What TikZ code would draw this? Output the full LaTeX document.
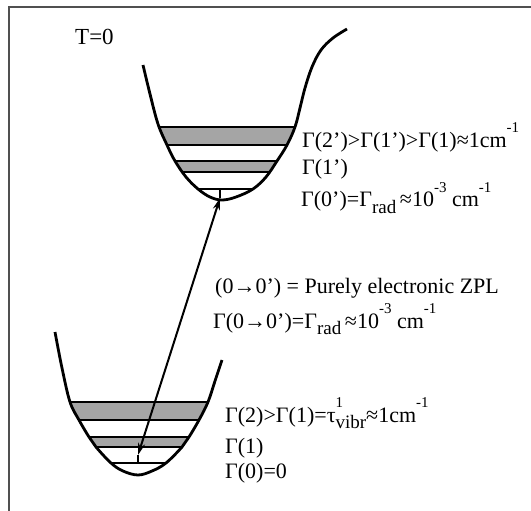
\documentclass[tikz,border=0pt]{standalone}
\usepackage{fontspec}
\setmainfont{Liberation Serif}
\usetikzlibrary{arrows.meta}
\newcommand\supx[1]{\raisebox{0.68em}{\fontsize{15}{15}\selectfont #1}}
\newcommand\subx[1]{\raisebox{-0.3em}{\fontsize{19}{19}\selectfont #1}}
\begin{document}
\begin{tikzpicture}[x=1pt, y=-1pt]
  % Colors
  \definecolor{framecol}{RGB}{80,80,80}
  \definecolor{bandcol}{RGB}{165,165,165}
  %
  \tikzset{
    well/.style={line width=2.8pt, line join=round},
    level/.style={line width=2.2pt},
    band/.style={fill=bandcol},
    lbl/.style={anchor=base west, inner sep=0pt, font=\fontsize{22}{26}\selectfont},
    trans/.style={line width=2pt,
                  {Stealth[length=12pt,width=7pt]}-{Stealth[length=12pt,width=7pt]}},
  }
  %
  \useasboundingbox (0,0) rectangle (531,511);
  %
  % === FRAME (top and left only) ===
  \draw[framecol, line width=1.4pt] (9,511) -- (9,7) -- (531,7);
  %
  % === UPPER WELL (excited state) ===
  \path[save path=\uwell] plot[smooth, tension=0.6] coordinates {
    (143,65) (150,94) (158,124) (167,145) (175,161) (186,177) (198,189)
    (210,197) (222,200) (236,197) (253,189) (266,177) (277,161) (287,145)
    (295,127) (300,108) (305,88) (312,67) (321,50) (333,38) (347,29)};
  \begin{scope}
    \clip[use path=\uwell];
    \fill[band] (100,127) rectangle (360,144);
    \fill[band] (100,161) rectangle (360,171);
    \foreach \y in {127,145,161,172} {
      \draw[level] (100,\y) -- (360,\y);
    }
    \draw[level, line width=1.5pt] (100,189) -- (360,189);
  \end{scope}
  \draw[well, use path=\uwell];
  %
  % === LOWER WELL (ground state) ===
  \path[save path=\lwell] plot[smooth, tension=0.6] coordinates {
    (55,332) (62,368) (70,402) (79,420) (89,437) (96,447) (111,463)
    (123,471) (138,475) (152,471) (166,463) (182,447) (189,437) (199,420)
    (208,402) (215,381) (222,360)};
  \begin{scope}
    \clip[use path=\lwell];
    \fill[band] (20,402) rectangle (260,419);
    \fill[band] (20,437) rectangle (260,446);
    \foreach \y in {402,420,437,447} {
      \draw[level] (20,\y) -- (260,\y);
    }
    \draw[level, line width=1.5pt] (20,463) -- (260,463);
  \end{scope}
  \draw[well, use path=\lwell];
  %
  % === ZPL TRANSITION ===
  \coordinate (zlow) at (138,455);
  \coordinate (zup) at (220,198);
  \coordinate (lev0) at (138,463);
  \coordinate (lev0up) at (220,189);
  \draw[trans] (zlow) -- (zup);
  \draw[line width=1.5pt] (lev0) -- (zlow);
  \draw[line width=1.5pt] (lev0up) -- (zup);
  %
  % === LABELS ===
  \node[lbl, font=\fontsize{23}{27}\selectfont] (temp) at (75,45) {T=0};
  \node[lbl] (g2up) at (302,147) {Γ(2')>Γ(1')>Γ(1)≈1cm\supx{-1}};
  \node[lbl] (g1up) at (302,175) {Γ(1')};
  \node[lbl] (g0up) at (301,207) {Γ(0')=Γ\subx{rad}\,≈10\supx{-3} cm\supx{-1}};
  \node[lbl] (zpl) at (215,293) {(0→0') = Purely electronic ZPL};
  \node[lbl] (gzpl) at (213,328) {Γ(0→0')=Γ\subx{rad}\,≈10\supx{-3} cm\supx{-1}};
  \node[lbl] (g2) at (225,422) {Γ(2)>Γ(1)=τ\rlap{\supx{1}}\subx{vibr}≈1cm\supx{-1}};
  \node[lbl] (g1) at (225,453) {Γ(1)};
  \node[lbl] (g0) at (225,478) {Γ(0)=0};
  %
\end{tikzpicture}
\end{document}
